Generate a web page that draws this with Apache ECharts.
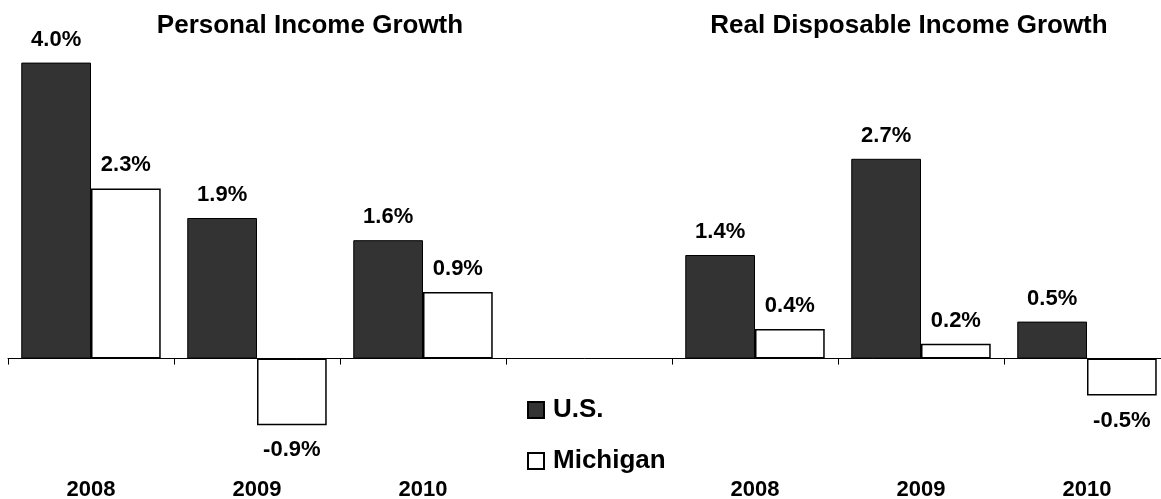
<!DOCTYPE html>
<html>
<head>
<meta charset="utf-8">
<script src="https://cdn.jsdelivr.net/npm/echarts@6/dist/echarts.min.js"></script>
<style>
  html, body { margin: 0; padding: 0; background: #fff; }
  #main { width: 1161px; height: 499px; }
</style>
</head>
<body>
<div id="main"></div>
<script>
// categories: 3 years per panel, blank slot in the middle for the legend
var categories = ['2008', '2009', '2010', '', '2008', '2009', '2010'];
var usValues = [4.0, 1.9, 1.6, null, 1.4, 2.7, 0.5];
var michiganValues = [2.3, -0.9, 0.9, null, 0.4, 0.2, -0.5];
var panelTitles = ['Personal Income Growth', 'Real Disposable Income Growth'];

var FONT = 'Liberation Sans, Arial';

var chart = echarts.init(document.getElementById('main'));

function barLabel() {
  return {
    show: true,
    fontFamily: FONT,
    fontWeight: 'bold',
    fontSize: 22,
    color: '#000',
    distance: 12,
    formatter: function (p) {
      return p.value.toFixed(1) + '%';
    }
  };
}

function toData(arr) {
  return arr.map(function (v) {
    if (v === null) return null;
    return {
      value: v,
      label: v < 0 ? { position: 'bottom', distance: 14 } : { position: 'top' }
    };
  });
}

var titleText = { fontSize: 26, fontWeight: 'bold', color: '#000', fontFamily: FONT };

var option = {
  animation: false,
  textStyle: { fontFamily: FONT },
  title: [
    { text: panelTitles[0], left: 305, top: 8, textAlign: 'center', textStyle: titleText },
    { text: panelTitles[1], left: 904, top: 8, textAlign: 'center', textStyle: titleText }
  ],
  legend: {
    orient: 'vertical',
    left: 522,
    top: 392,
    itemGap: 25,
    itemWidth: 16,
    itemHeight: 16,
    icon: 'rect',
    textStyle: {
      fontSize: 26, fontWeight: 'bold', color: '#000', fontFamily: FONT,
      padding: [0, 0, 0, 4]
    },
    data: ['U.S.', 'Michigan']
  },
  grid: {
    left: 8,
    top: 33,
    width: 1162,
    height: 444,
    outerBoundsMode: 'none'
  },
  xAxis: [
    {
      type: 'category',
      data: categories,
      axisLine: { onZero: true, lineStyle: { color: '#000', width: 1 } },
      axisTick: { show: true, length: 6, lineStyle: { color: '#000' } },
      axisLabel: { show: false }
    },
    {
      type: 'category',
      data: categories,
      position: 'bottom',
      axisLine: { show: false, onZero: false },
      axisTick: { show: false },
      axisLabel: {
        show: true, margin: 2,
        fontSize: 22, fontWeight: 'bold', color: '#000',
        fontFamily: FONT
      }
    }
  ],
  yAxis: {
    type: 'value',
    min: -1.6,
    max: 4.4,
    show: false,
    splitLine: { show: false }
  },
  series: [
    {
      name: 'U.S.',
      type: 'bar',
      xAxisIndex: 0,
      data: toData(usValues),
      barGap: '0%',
      barCategoryGap: '16%',
      itemStyle: { color: '#333333', borderColor: '#000', borderWidth: 1 },
      label: barLabel()
    },
    {
      name: 'Michigan',
      type: 'bar',
      xAxisIndex: 0,
      data: toData(michiganValues),
      barGap: '0%',
      barCategoryGap: '16%',
      itemStyle: { color: '#ffffff', borderColor: '#000', borderWidth: 1.5 },
      label: barLabel()
    }
  ]
};

chart.setOption(option);
</script>
</body>
</html>
